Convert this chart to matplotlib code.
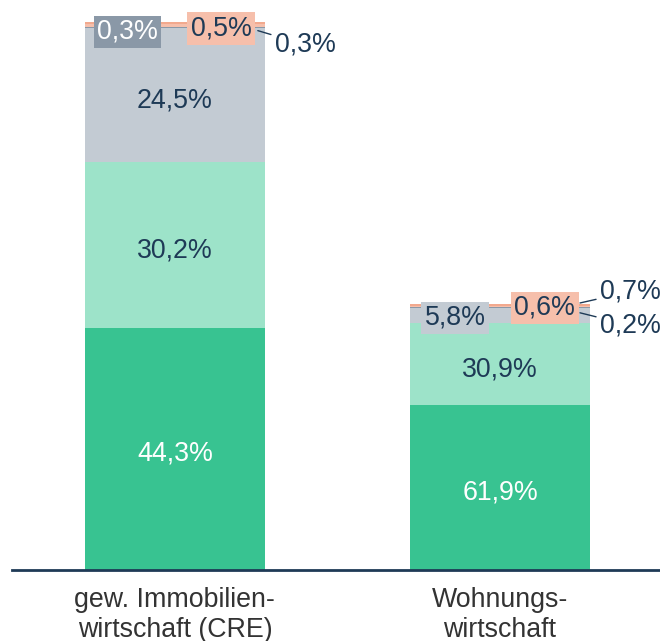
import matplotlib.pyplot as plt

plt.rcParams['font.family'] = ['Liberation Sans', 'DejaVu Sans']

# Daten
kategorien = ['gew. Immobilien-\nwirtschaft (CRE)', 'Wohnungs-\nwirtschaft']
gesamt = [100.0, 48.6]          # relative Balkenhöhe
anteil_1 = [44.3, 61.9]         # dunkelgrün
anteil_2 = [30.2, 30.9]         # hellgrün
anteil_3 = [24.5, 5.8]          # grau
anteil_4 = [0.3, 0.2]           # dunkelgrau
anteil_5 = [0.5, 0.6]           # lachs
anteil_6 = [0.3, 0.7]           # lachs dunkel

serien = [anteil_1, anteil_2, anteil_3, anteil_4, anteil_5, anteil_6]
farben = ['#38C391', '#9DE3C9', '#C3CBD3', '#8A98A7', '#F6BFAB', '#F2A98E']

navy = '#1E3A56'
fs = 19.3

fig = plt.figure(figsize=(6.6, 6.41), dpi=100)
ax = fig.add_axes([0.018, 0.111, 0.982, 0.889])

x = [0, 1]
breite = 0.554
basis = [0.0, 0.0]
hoehen = []
for s, f in zip(serien, farben):
    h = [v * g / 100 for v, g in zip(s, gesamt)]
    ax.bar(x, h, breite, bottom=basis, color=f, linewidth=0)
    hoehen.append((list(basis), h))
    basis = [b + hh for b, hh in zip(basis, h)]

def fmt(v):
    return f'{v:.1f}%'.replace('.', ',')

def mitte(i, k, farbe_txt):
    b, h = hoehen[k]
    ax.annotate(fmt(serien[k][i]), (x[i], b[i] + h[i] / 2), xytext=(0, -3.6),
                textcoords='offset points', ha='center', va='center',
                fontsize=fs, color=farbe_txt)

# Beschriftungen der großen Segmente
for i in range(2):
    mitte(i, 0, 'white')
    mitte(i, 1, navy)
mitte(0, 2, navy)

def box(xp, yp, txt, fc, tc):
    ax.text(xp, yp, txt, ha='center', va='center', fontsize=fs, color=tc,
            bbox=dict(boxstyle='square,pad=0.12', fc=fc, ec='none'))

def leader(xy, xytext, txt):
    ax.annotate(txt, xy=xy, xytext=xytext, ha='left', va='center', fontsize=fs,
                color=navy, arrowprops=dict(arrowstyle='-', color=navy, lw=1,
                                            shrinkA=1, shrinkB=0))

# CRE
box(-0.145, 98.4, fmt(anteil_4[0]), '#8A98A7', 'white')
box(0.142, 99.0, fmt(anteil_5[0]), '#F6BFAB', navy)
leader((0.255, 98.6), (0.308, 96.0), fmt(anteil_6[0]))

# Wohnungswirtschaft
box(1 - 0.138, 46.1, fmt(anteil_3[1]), '#C3CBD3', navy)
box(1 + 0.138, 47.9, fmt(anteil_5[1]), '#F6BFAB', navy)
leader((1.246, 48.8), (1.308, 50.9), fmt(anteil_6[1]))
leader((1.246, 47.0), (1.308, 44.7), fmt(anteil_4[1]))

ax.set_xlim(-0.5015, 1.492)
ax.set_ylim(0, 104.2)
ax.set_xticks(x)
ax.set_xticklabels(kategorien, fontsize=fs, color='#333333', linespacing=1.2)
ax.tick_params(axis='x', length=0, pad=12)
ax.set_yticks([])
for sp in ['top', 'right', 'left']:
    ax.spines[sp].set_visible(False)
ax.spines['bottom'].set_color(navy)
ax.spines['bottom'].set_linewidth(2)

fig.savefig('out.png', dpi=100)
